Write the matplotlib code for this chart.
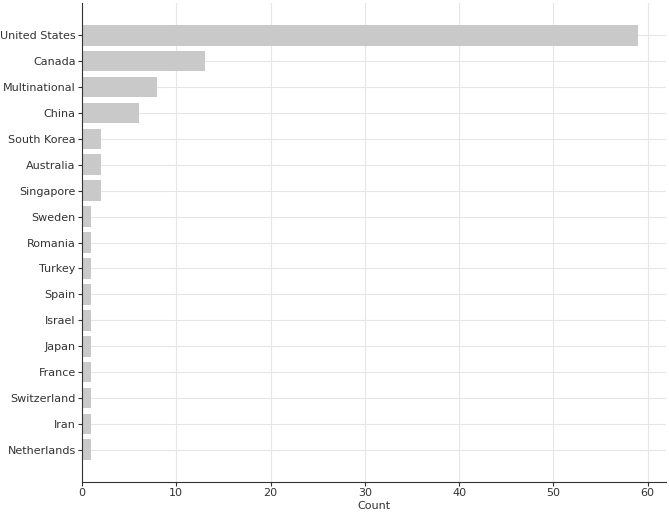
import matplotlib
matplotlib.use("Agg")
import matplotlib.pyplot as plt

# country counts, top to bottom
countries = ["United States", "Canada", "Multinational", "China", "South Korea",
             "Australia", "Singapore", "Sweden", "Romania", "Turkey", "Spain",
             "Israel", "Japan", "France", "Switzerland", "Iran", "Netherlands"]
counts = [59, 13, 8, 6, 2, 2, 2, 1, 1, 1, 1, 1, 1, 1, 1, 1, 1]

fig = plt.figure(figsize=(6.69, 5.12), dpi=100)
ax = fig.add_axes([0.1226, 0.0586, 0.873, 0.9354])

ax.barh(countries, counts, color="#c9c9c9", height=0.8, zorder=2)
ax.invert_yaxis()
ax.set_xlabel("Count", fontsize=8, color="#333333", labelpad=2)
ax.set_xticks(range(0, 61, 10))
ax.grid(True, color="#e6e6e6", linewidth=0.8, zorder=0)
ax.tick_params(labelsize=8, colors="#333333", length=3, pad=1.5)
for s in ["top", "right"]:
    ax.spines[s].set_visible(False)
ax.spines["left"].set_color("#333333")
ax.spines["bottom"].set_color("#333333")

fig.savefig("out.png", dpi=100)
